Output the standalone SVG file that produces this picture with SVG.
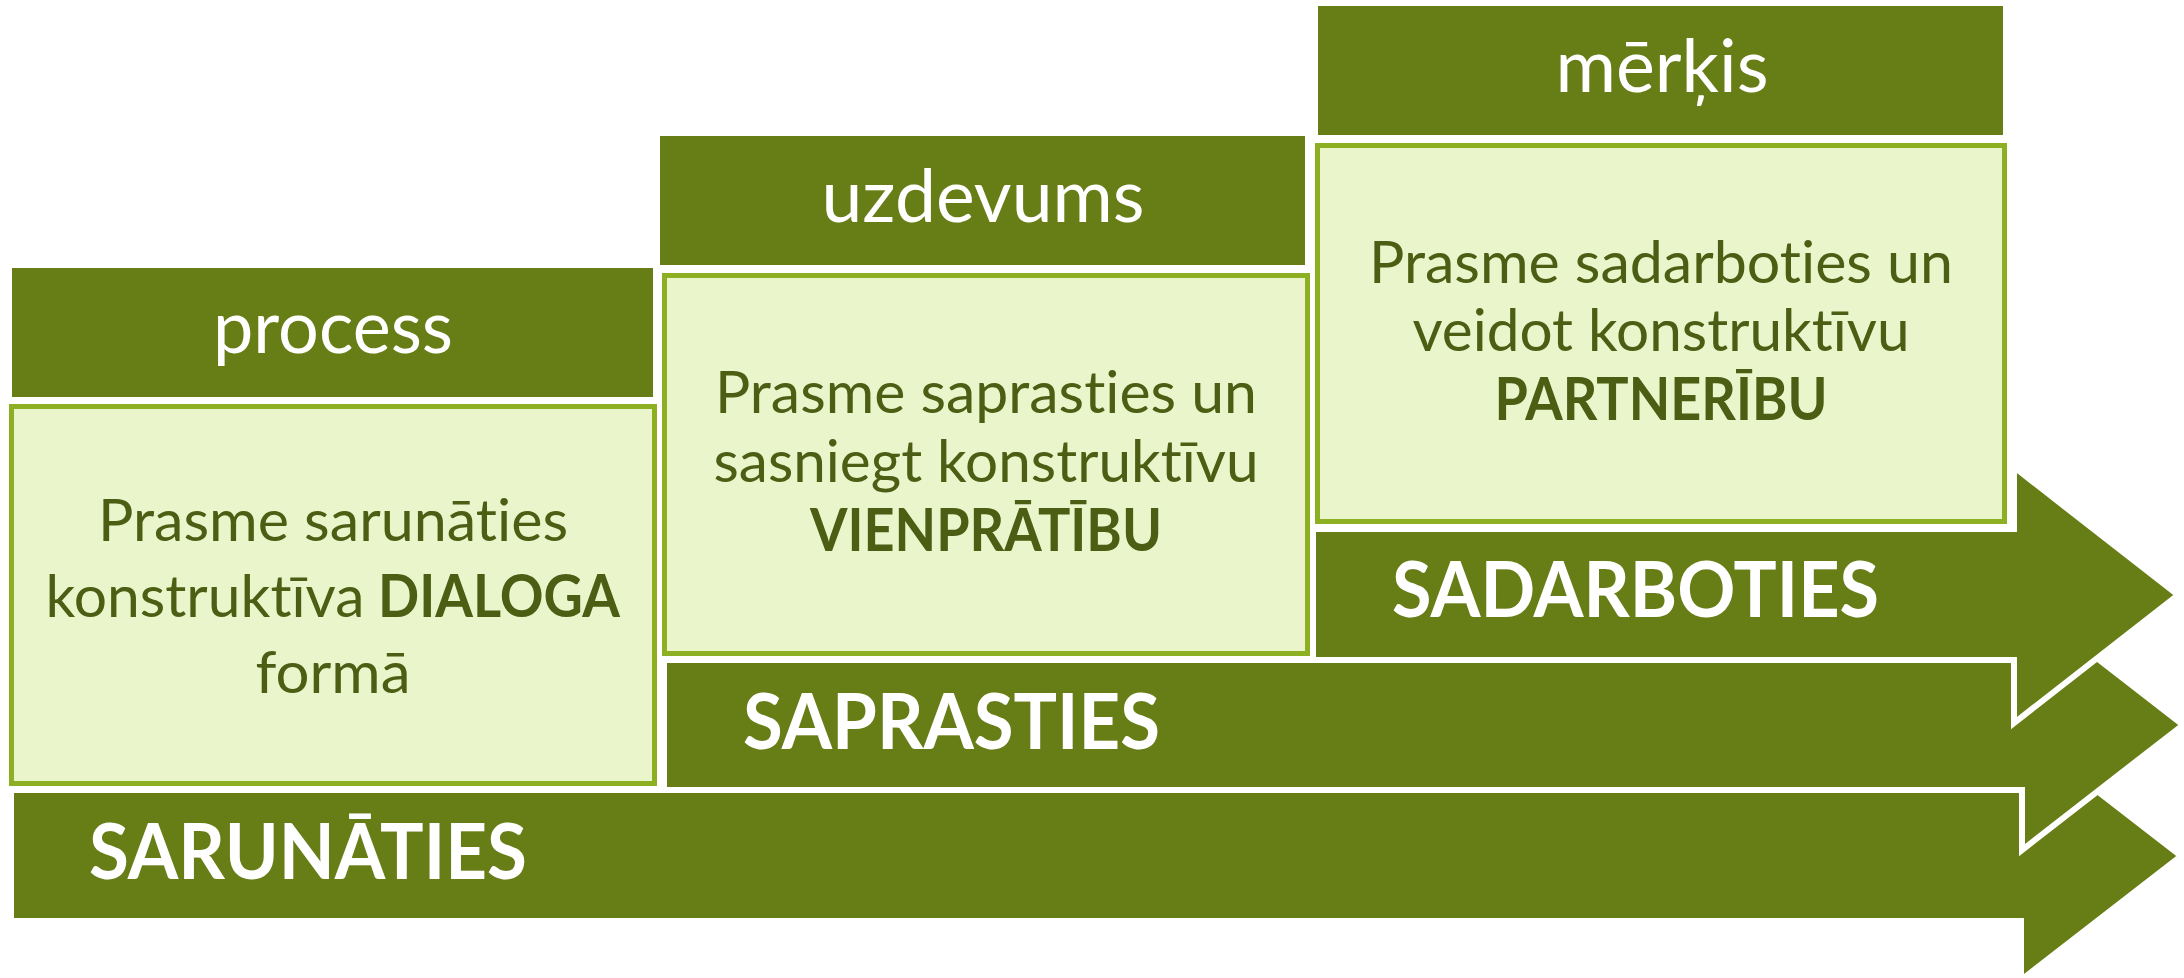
<svg xmlns="http://www.w3.org/2000/svg" width="2184" height="978" viewBox="0 0 2184 978">
<style>
text{font-variant-ligatures:none;font-feature-settings:"liga" 0,"clig" 0}
.arrow{fill:#677D16;stroke:#FFFFFF;stroke-width:6;stroke-linejoin:miter}
.hdr{fill:#677D16}
.box{fill:#EBF5CB;stroke:#8CB021;stroke-width:5}
.htxt{font-family:Lato,"Open Sans",sans-serif;font-size:73px;fill:#FFFFFF;text-anchor:middle}
.btxt{font-family:Lato,"Open Sans",sans-serif;font-size:59px;fill:#4B5E13}
.bold{font-weight:bold}
.mid{text-anchor:middle}
.atxt{font-family:Lato,"Open Sans",sans-serif;font-size:76px;font-weight:bold;fill:#FFFFFF}
</style>
<rect width="2184" height="978" fill="#FFFFFF"/>
<g id="arrows">
  <g id="arrow-sarunaties">
    <path class="arrow" d="M11,790 H2021 V732 L2181,856 L2021,980 V921 H11 Z"/>
    <text class="atxt" x="89" y="879" textLength="438" lengthAdjust="spacingAndGlyphs">SARUNĀTIES</text>
  </g>
  <g id="arrow-saprasties">
    <path class="arrow" d="M664,660 H2022 V600 L2183,725 L2022,850 V790 H664 Z"/>
    <text class="atxt" x="743" y="749" textLength="417" lengthAdjust="spacingAndGlyphs">SAPRASTIES</text>
  </g>
  <g id="arrow-sadarboties">
    <path class="arrow" d="M1313,529 H2014 V467 L2178,595 L2014,723 V660 H1313 Z"/>
    <text class="atxt" x="1392" y="617" textLength="487" lengthAdjust="spacingAndGlyphs">SADARBOTIES</text>
  </g>
</g>
<g id="process">
  <rect class="hdr" x="12" y="268" width="641" height="129"/>
  <text class="htxt" x="333" y="353" textLength="240" lengthAdjust="spacingAndGlyphs">process</text>
  <rect class="box" x="11.5" y="406.5" width="643" height="377"/>
  <text class="btxt mid" x="333" y="541" textLength="470" lengthAdjust="spacingAndGlyphs">Prasme sarunāties</text>
  <text class="btxt" x="45.5" y="617" textLength="319" lengthAdjust="spacingAndGlyphs">konstruktīva</text>
  <text class="btxt bold" x="378" y="617" textLength="242" lengthAdjust="spacingAndGlyphs">DIALOGA</text>
  <text class="btxt mid" x="333" y="693" textLength="155" lengthAdjust="spacingAndGlyphs">formā</text>
</g>
<g id="uzdevums">
  <rect class="hdr" x="660" y="136" width="645" height="129"/>
  <text class="htxt" x="983" y="222" textLength="323" lengthAdjust="spacingAndGlyphs">uzdevums</text>
  <rect class="box" x="664.5" y="275.5" width="643" height="378"/>
  <text class="btxt mid" x="986" y="413" textLength="542" lengthAdjust="spacingAndGlyphs">Prasme saprasties un</text>
  <text class="btxt mid" x="986" y="482" textLength="545" lengthAdjust="spacingAndGlyphs">sasniegt konstruktīvu</text>
  <text class="btxt bold mid" x="986" y="551" textLength="352" lengthAdjust="spacingAndGlyphs">VIENPRĀTĪBU</text>
</g>
<g id="merkis">
  <rect class="hdr" x="1318" y="6" width="685" height="129"/>
  <text class="htxt" x="1662" y="92" textLength="213" lengthAdjust="spacingAndGlyphs">mērķis</text>
  <rect class="box" x="1317.5" y="145.5" width="687" height="376"/>
  <text class="btxt mid" x="1661" y="283" textLength="584" lengthAdjust="spacingAndGlyphs">Prasme sadarboties un</text>
  <text class="btxt mid" x="1661" y="351" textLength="497" lengthAdjust="spacingAndGlyphs">veidot konstruktīvu</text>
  <text class="btxt bold mid" x="1661" y="420" textLength="333" lengthAdjust="spacingAndGlyphs">PARTNERĪBU</text>
</g>
</svg>
